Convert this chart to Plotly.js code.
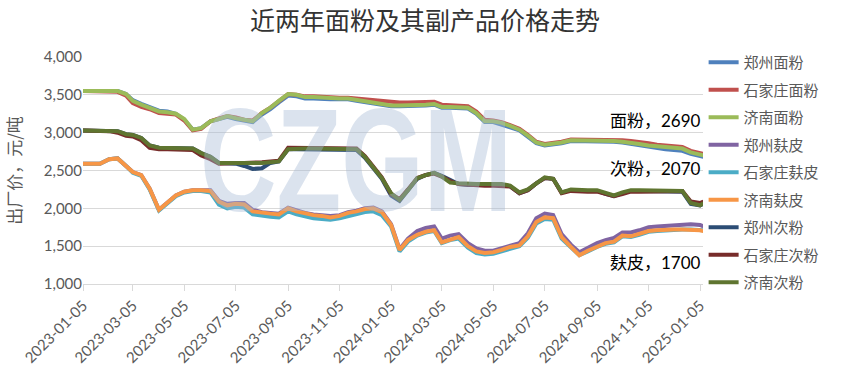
<!DOCTYPE html>
<html>
<head>
<meta charset="utf-8">
<script src="https://cdn.plot.ly/plotly-3.0.1.min.js"></script>
<style>
html,body{margin:0;padding:0;background:#fff;}
#chart{width:850px;height:381px;}
</style>
</head>
<body>
<div id="chart"></div>
<script>
// ---------- data ----------
const dates = [
 '2023-01-05','2023-01-15','2023-01-25','2023-02-05','2023-02-15','2023-02-25',
 '2023-03-05','2023-03-15','2023-03-25','2023-04-05','2023-04-15','2023-04-25',
 '2023-05-05','2023-05-15','2023-05-25','2023-06-05','2023-06-15','2023-06-25',
 '2023-07-05','2023-07-15','2023-07-25','2023-08-05','2023-08-15','2023-08-25',
 '2023-09-05','2023-09-15','2023-09-25','2023-10-05','2023-10-15','2023-10-25',
 '2023-11-05','2023-11-15','2023-11-25','2023-12-05','2023-12-15','2023-12-25',
 '2024-01-05','2024-01-15','2024-01-25','2024-02-05','2024-02-15','2024-02-25',
 '2024-03-05','2024-03-15','2024-03-25','2024-04-05','2024-04-15','2024-04-25',
 '2024-05-05','2024-05-15','2024-05-25','2024-06-05','2024-06-15','2024-06-25',
 '2024-07-05','2024-07-15','2024-07-25','2024-08-05','2024-08-15','2024-08-25',
 '2024-09-05','2024-09-15','2024-09-25','2024-10-05','2024-10-15','2024-10-25',
 '2024-11-05','2024-11-15','2024-11-25','2024-12-05','2024-12-15','2024-12-25',
 '2025-01-05','2025-01-09'
];

const seriesNames = ['郑州面粉','石家庄面粉','济南面粉','郑州麸皮','石家庄麸皮','济南麸皮','郑州次粉','石家庄次粉','济南次粉'];

const zzFlour = [3550,3550,3550,3550,3550,3510,3430,3380,3340,3290,3280,3250,3170,3040,3060,3150,3180,3210,
 3180,3160,3140,3240,3310,3400,3490,3480,3450,3450,3440,3440,3440,3440,3420,3400,3390,3360,
 3350,3350,3350,3350,3360,3370,3330,3330,3330,3320,3250,3140,3140,3110,3070,3030,2950,2860,
 2830,2840,2860,2890,2890,2890,2890,2890,2880,2870,2850,2830,2810,2790,2780,2770,2760,2720,
 2690,2680];
const sjzFlour = [3550,3550,3550,3550,3540,3490,3390,3340,3310,3260,3250,3240,3160,3030,3050,3150,3190,3220,
 3200,3170,3160,3260,3330,3420,3510,3500,3480,3480,3470,3470,3460,3460,3450,3440,3430,3410,
 3400,3400,3400,3400,3400,3410,3370,3360,3360,3350,3280,3170,3160,3140,3100,3050,2970,2880,
 2850,2860,2880,2910,2910,2910,2910,2910,2910,2900,2890,2880,2860,2840,2830,2820,2810,2760,
 2730,2720];
const jnFlour = [3550,3550,3550,3550,3550,3510,3420,3370,3330,3280,3270,3250,3180,3040,3060,3150,3180,3220,
 3190,3170,3150,3260,3330,3420,3510,3500,3470,3470,3460,3460,3450,3450,3430,3410,3400,3370,
 3360,3360,3360,3360,3370,3380,3340,3340,3340,3330,3260,3150,3150,3130,3090,3040,2960,2870,
 2840,2850,2870,2900,2900,2900,2900,2900,2890,2880,2870,2850,2830,2820,2810,2800,2790,2740,
 2710,2700];

const zzBran = [2590,2590,2590,2650,2660,2560,2480,2440,2260,1980,2080,2170,2220,2240,2240,2240,2100,2060,
 2070,2070,1980,1950,1940,1930,2010,1970,1940,1920,1910,1900,1910,1950,1970,2000,2010,1960,
 1790,1460,1600,1700,1740,1760,1600,1640,1660,1540,1470,1440,1440,1470,1510,1540,1670,1870,
 1930,1910,1660,1520,1420,1480,1540,1580,1610,1680,1680,1710,1750,1760,1770,1780,1790,1790,
 1780,1760];
const sjzBran = [2590,2590,2590,2650,2660,2560,2470,2430,2250,1970,2070,2160,2210,2230,2230,2210,2050,2000,
 2020,2010,1920,1900,1890,1880,1960,1920,1890,1870,1860,1850,1870,1900,1920,1950,1960,1910,
 1760,1430,1560,1640,1680,1700,1540,1580,1600,1480,1410,1390,1400,1430,1470,1500,1610,1800,
 1860,1850,1600,1480,1380,1430,1490,1530,1550,1630,1620,1650,1690,1700,1710,1710,1720,1720,
 1710,1710];
const jnBran = [2590,2590,2590,2650,2660,2560,2480,2440,2260,1980,2080,2170,2220,2240,2240,2230,2090,2040,
 2060,2050,1960,1940,1930,1920,2000,1960,1930,1910,1900,1880,1900,1940,1960,1990,2000,1950,
 1780,1450,1580,1650,1690,1710,1550,1590,1620,1500,1430,1410,1420,1450,1490,1510,1630,1820,
 1880,1870,1620,1490,1380,1440,1500,1540,1560,1640,1630,1660,1700,1710,1720,1720,1720,1720,
 1710,1700];

const zzSecond = [3030,3030,3030,3030,3020,2980,2970,2930,2830,2800,2800,2800,2800,2790,2730,2680,2600,2600,
 2590,2560,2520,2530,2600,2620,2780,2780,2780,2780,2780,2780,2780,2780,2770,2670,2530,2390,
 2170,2100,2240,2390,2440,2470,2430,2370,2320,2310,2310,2310,2310,2310,2290,2200,2240,2330,
 2400,2390,2210,2240,2230,2230,2230,2190,2160,2200,2230,2230,2230,2230,2230,2230,2220,2060,
 2040,2060];
const sjzSecond = [3030,3030,3030,3020,3000,2960,2950,2900,2800,2780,2780,2780,2780,2770,2700,2650,2590,2600,
 2600,2600,2600,2610,2620,2630,2800,2800,2800,2800,2800,2800,2800,2800,2790,2690,2550,2410,
 2190,2120,2250,2400,2440,2460,2420,2360,2320,2310,2300,2300,2300,2300,2290,2200,2240,2330,
 2400,2390,2200,2230,2220,2220,2220,2190,2160,2190,2220,2220,2220,2220,2220,2230,2230,2090,
 2070,2090];
const jnSecond = [3030,3030,3030,3030,3020,2980,2970,2930,2830,2800,2800,2800,2800,2790,2730,2680,2600,2600,
 2600,2590,2590,2600,2610,2620,2780,2790,2790,2790,2790,2790,2790,2790,2780,2680,2540,2400,
 2200,2110,2240,2400,2440,2470,2420,2340,2330,2320,2320,2320,2320,2320,2300,2210,2250,2330,
 2410,2390,2210,2250,2240,2240,2240,2200,2170,2210,2240,2240,2240,2240,2240,2240,2230,2070,
 2040,2070];

const tickVals = ['2023-01-05','2023-03-05','2023-05-05','2023-07-05','2023-09-05','2023-11-05',
 '2024-01-05','2024-03-05','2024-05-05','2024-07-05','2024-09-05','2024-11-05','2025-01-05'];
const tickText = tickVals.slice();

const endLabels = ['面粉，2690','次粉，2070','麸皮，1700'];
const endLabelY = [3160, 2530, 1280];

// ---------- styling ----------
const colors = ['#4F81BD','#C0504D','#9BBB59','#8064A2','#4BACC6','#F79646','#2C4D75','#772C2A','#5F7530'];
const values = [zzFlour, sjzFlour, jnFlour, zzBran, sjzBran, jnBran, zzSecond, sjzSecond, jnSecond];
const cjk = 'Noto Sans CJK SC, sans-serif';
const num = 'Lato, Noto Sans CJK SC, sans-serif';

const traces = seriesNames.map((n, i) => ({
  type: 'scatter', mode: 'lines', name: n, x: dates, y: values[i],
  legendgroup: 'g' + i,
  line: {color: colors[i], width: 4},
  hoverinfo: 'skip'
}));

const annotations = endLabels.map((t, i) => ({
  text: t, xref: 'x', yref: 'y', x: '2025-01-08', y: endLabelY[i],
  xanchor: 'right', yanchor: 'middle', showarrow: false,
  font: {family: num, size: 17, color: '#000000'}
}));
annotations.push({
  text: 'CZGM', xref: 'paper', yref: 'paper', x: 0.44, y: 0.546,
  xanchor: 'center', yanchor: 'middle', showarrow: false,
  font: {family: 'Liberation Sans, Arial, sans-serif', size: 106, weight: 'bold', color: 'rgba(165,185,212,0.40)'}
});

const layout = {
  width: 850, height: 381,
  margin: {l: 83, r: 147, t: 57, b: 97},
  paper_bgcolor: '#ffffff', plot_bgcolor: '#ffffff',
  title: {text: '近两年面粉及其副产品价格走势', font: {family: cjk, size: 25, color: '#333333'},
          x: 0.5, xanchor: 'center', y: 0.945, yanchor: 'middle', yref: 'container'},
  xaxis: {
    type: 'date', range: ['2023-01-05', '2025-01-08 12:00'],
    tickmode: 'array', tickvals: tickVals, ticktext: tickText, tickangle: -45,
    tickfont: {family: num, size: 15, color: '#595959'},
    showgrid: false, zeroline: false,
    showline: true, linecolor: '#D9D9D9', linewidth: 1,
    ticks: 'outside', ticklen: 6, tickcolor: '#D9D9D9', tickwidth: 1
  },
  yaxis: {
    range: [1000, 4000], dtick: 500, tick0: 1000, tickformat: ',d',
    tickfont: {family: num, size: 15, color: '#595959'},
    showgrid: true, gridcolor: '#D9D9D9', gridwidth: 1,
    zeroline: false, showline: false, ticks: '',
    title: {text: '出厂价，元/吨', font: {family: cjk, size: 17, color: '#595959'}, standoff: 17}
  },
  legend: {
    x: 1.001, xanchor: 'left', y: 1.048, yanchor: 'top',
    font: {family: cjk, size: 15, color: '#595959'},
    bgcolor: 'rgba(0,0,0,0)', tracegroupgap: 5, maxheight: 380
  },
  annotations: annotations,
  showlegend: true
};

Plotly.newPlot('chart', traces, layout, {displayModeBar: false, staticPlot: true}).then(gd => {
  gd.querySelectorAll('.annotation-text').forEach(t => {
    if (t.textContent === 'CZGM') {
      const b = t.getBBox();
      const cx = b.x + b.width / 2, cy = b.y + b.height / 2;
      t.setAttribute('transform', `translate(${cx},${cy}) scale(1,1.38) translate(${-cx},${-cy})`);
    }
  });
});
</script>
</body>
</html>
